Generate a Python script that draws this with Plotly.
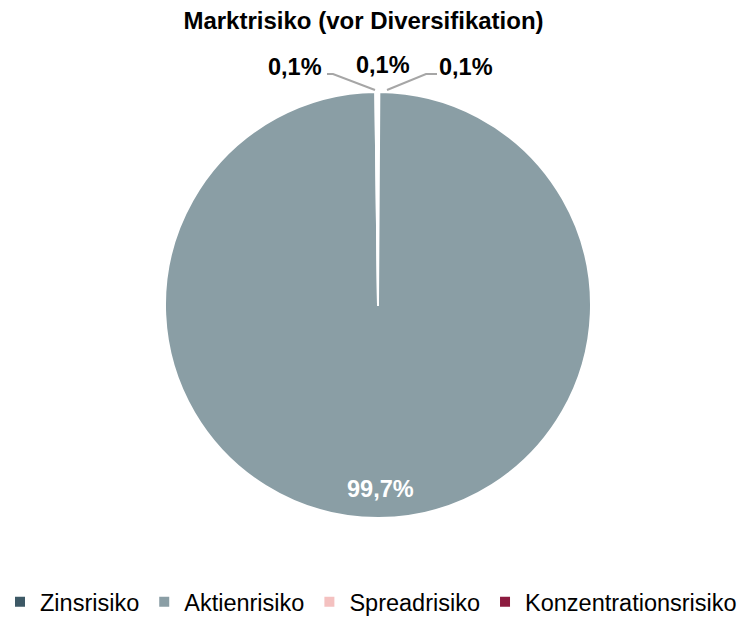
import plotly.graph_objects as go

categories = ["Zinsrisiko", "Aktienrisiko", "Spreadrisiko", "Konzentrationsrisiko"]
values = [0.1, 99.7, 0.1, 0.1]
colors = ["#3d5966", "#8a9ea5", "#f4c1c0", "#8c1b3f"]
title_text = "Marktrisiko (vor Diversifikation)"

W, H = 756, 618
cx, cy, R = 378, 305, 213
FONT = "Liberation Sans, Arial"


def px(x):
    return x / W


def py(y):
    return 1 - y / H


def fmt(v):
    return f"{v:.1f}".replace(".", ",") + "%"


fig = go.Figure()
fig.add_trace(go.Pie(
    labels=categories,
    values=values,
    marker=dict(colors=colors, line=dict(color="white", width=2)),
    sort=False,
    direction="clockwise",
    rotation=0,
    textinfo="none",
    hoverinfo="label+percent",
    domain=dict(x=[px(cx - R), px(cx + R)], y=[py(cy + R), py(cy - R)]),
))

# label for the big slice (white, inside, at bottom)
fig.add_annotation(x=px(380), y=py(489), xref="paper", yref="paper",
                   text=f"<b>{fmt(values[1])}</b>", showarrow=False,
                   font=dict(size=23.5, color="white", family=FONT),
                   xanchor="center", yanchor="middle")

# small slice labels placed outside
small = [(0, 295, 67), (2, 383, 65), (3, 466, 67)]
for idx, x, y in small:
    fig.add_annotation(x=px(x), y=py(y), xref="paper", yref="paper",
                       text=f"<b>{fmt(values[idx])}</b>", showarrow=False,
                       font=dict(size=23.5, color="#000000", family=FONT),
                       xanchor="center", yanchor="middle")

# leader lines
line_style = dict(color="#a6a6a6", width=2)
fig.add_shape(type="path", xref="paper", yref="paper",
              path=f"M {px(327)},{py(74)} L {px(333)},{py(74)} L {px(375)},{py(90)}",
              line=line_style)
fig.add_shape(type="path", xref="paper", yref="paper",
              path=f"M {px(387)},{py(90)} L {px(426)},{py(74)} L {px(437)},{py(74)}",
              line=line_style)

fig.update_layout(
    width=W, height=H,
    margin=dict(l=0, r=0, t=0, b=0, autoexpand=False),
    paper_bgcolor="white",
    plot_bgcolor="white",
    separators=",.",
    font=dict(family=FONT, color="#000000"),
    title=dict(text=f"<b>{title_text}</b>", x=px(363.5), xanchor="center",
               y=py(21), yanchor="middle",
               font=dict(size=24, color="#000000", family=FONT)),
    showlegend=True,
    legend=dict(orientation="h", x=px(371), xanchor="center", y=py(602), yanchor="middle",
                bgcolor="rgba(0,0,0,0)",
                font=dict(size=23.5, color="#000000", family=FONT),
                traceorder="normal", itemclick=False),
)

fig.write_html("out.html")
